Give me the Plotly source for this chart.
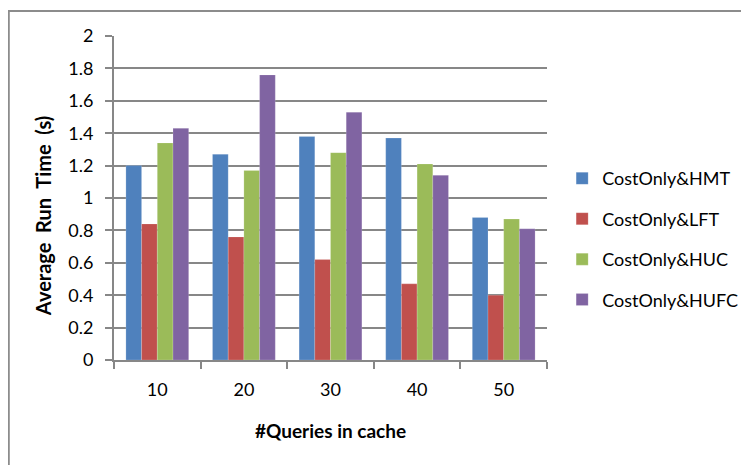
import plotly.graph_objects as go

categories = ["10", "20", "30", "40", "50"]
series_names = ["CostOnly&HMT", "CostOnly&LFT", "CostOnly&HUC", "CostOnly&HUFC"]
hmt = [1.20, 1.27, 1.38, 1.37, 0.88]
lft = [0.84, 0.76, 0.62, 0.47, 0.40]
huc = [1.34, 1.17, 1.28, 1.21, 0.87]
hufc = [1.43, 1.76, 1.53, 1.14, 0.81]
y_ticks = [0, 0.2, 0.4, 0.6, 0.8, 1, 1.2, 1.4, 1.6, 1.8, 2]
y_tick_labels = ["0", "0.2", "0.4", "0.6", "0.8", "1", "1.2", "1.4", "1.6", "1.8", "2"]
x_title = "#Queries in cache"
y_title = "Average Run Time (s)"

colors = ["#4F81BD", "#C0504D", "#9BBB59", "#8064A2"]
values = [hmt, lft, huc, hufc]

FONT = "Lato, Calibri, 'Open Sans', sans-serif"
GRID = "#878787"

fig = go.Figure()
for name, vals, col in zip(series_names, values, colors):
    fig.add_trace(go.Bar(
        x=categories, y=vals, name=name, legendgroup=name,
        marker=dict(color=col, line=dict(color="rgba(255,255,255,0.35)", width=0.5)),
    ))

# page body adds an 8px offset; margins compensate so the plot area sits at x 114-547, y 36-360
fig.update_layout(
    width=749, height=465,
    margin=dict(l=106, r=210, t=28, b=113),
    paper_bgcolor="white", plot_bgcolor="white",
    barmode="group", bargap=0.275, bargroupgap=0,
    font=dict(family=FONT, size=18, color="black"),
    showlegend=True,
    legend=dict(
        x=1.035, y=0.373, xanchor="left", yanchor="middle",
        font=dict(family=FONT, size=18, color="black"),
        tracegroupgap=14, itemwidth=30,
    ),
    xaxis=dict(
        type="category", tickson="boundaries",
        ticks="outside", ticklen=7, tickwidth=2, tickcolor=GRID,
        showline=True, linecolor=GRID, linewidth=2,
        showgrid=False,
        ticklabelstandoff=12,
        tickfont=dict(family=FONT, size=18),
    ),
    yaxis=dict(
        range=[0, 2], tickvals=y_ticks, ticktext=y_tick_labels,
        ticks="outside", ticklen=7, tickwidth=2, tickcolor=GRID,
        showline=True, linecolor=GRID, linewidth=2,
        showgrid=True, gridcolor=GRID, gridwidth=2,
        zeroline=False,
        ticklabelstandoff=8,
        tickfont=dict(family=FONT, size=18),
    ),
    annotations=[
        dict(text="<b>" + x_title + "</b>", xref="paper", yref="paper",
             x=0.5, y=-0.219, xanchor="center", yanchor="middle",
             showarrow=False, font=dict(family=FONT, size=19)),
        dict(text="<b>" + y_title.replace(" ", "&nbsp;&nbsp;") + "</b>", xref="paper", yref="paper",
             x=-0.164, y=0.444, xanchor="center", yanchor="middle", textangle=-90,
             showarrow=False, font=dict(family=FONT, size=20)),
    ],
    shapes=[dict(type="rect", xref="paper", yref="paper",
                 x0=-0.243, x1=1.5, y0=-0.4, y1=1.077,
                 line=dict(color="#8C8C8C", width=2))],
)

fig.write_html("out.html")
